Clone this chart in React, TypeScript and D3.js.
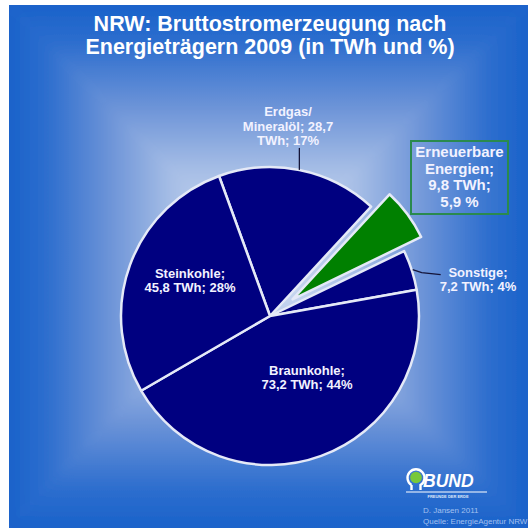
import React from "react";
import * as d3 from "d3";

// ---- data ----
const categories = ["Erdgas/Mineralöl", "Erneuerbare Energien", "Sonstige", "Braunkohle", "Steinkohle"];
const twhValues = [28.7, 9.8, 7.2, 73.2, 45.8];
const percentLabels = ["17%", "5,9 %", "4%", "44%", "28%"];
const labelLines = [
  ["Erdgas/", "Mineralöl; 28,7", "TWh; 17%"],
  ["Erneuerbare", "Energien;", "9,8 TWh;", "5,9 %"],
  ["Sonstige;", "7,2 TWh; 4%"],
  ["Braunkohle;", "73,2 TWh; 44%"],
  ["Steinkohle;", "45,8 TWh; 28%"],
];
const titleLines = ["NRW: Bruttostromerzeugung nach", "Energieträgern 2009 (in TWh und %)"];
const footerLines = ["D. Jansen 2011", "Quelle: EnergieAgentur NRW"];

// ---- layout / style (not data) ----
const W = 528, H = 528;
const panel = { x: 9, y: 5, w: 519, h: 523 };
const gc = { x: 262, y: 262 };
const cx = 270, cy = 316, R = 149;
const explodedIdx = 1;
const explodeDist = 28;
const explodedR = 143;
const fills = ["#000080", "#008000", "#000080", "#000080", "#000080"];
const labelPos = [
  { x: 288, y: 116, dy: 14.5, size: 13 },
  { x: 459.5, y: 157, dy: 16.7, size: 15 },
  { x: 478, y: 277, dy: 13.5, size: 13 },
  { x: 307, y: 375, dy: 14, size: 13 },
  { x: 190, y: 278, dy: 14, size: 13 },
];
const stops = [
  [0, "#1a62ca"],
  [0.15, "#2d6ece"],
  [0.4, "#6d94d8"],
  [0.65, "#a8bfe6"],
  [1, "#d4e0f4"],
];

export default function App() {
  const startA = (-20 * Math.PI) / 180;
  const pie = d3.pie<number>().sort(null).value((d) => d).startAngle(startA).endAngle(startA + 2 * Math.PI);
  const arcs = pie(twhValues);
  const arcGen = d3.arc<d3.PieArcDatum<number>>().innerRadius(0).outerRadius(R);
  const arcEx = d3.arc<d3.PieArcDatum<number>>().innerRadius(0).outerRadius(explodedR);

  const pt = (a: number, r: number) => [cx + r * Math.sin(a), cy - r * Math.cos(a)];

  const pad = 40;
  const L = panel.x - pad, T = panel.y - pad, Rr = panel.x + panel.w + pad, B = panel.y + panel.h + pad;
  const grads = [
    { id: "gT", x1: 0, y1: panel.y, x2: 0, y2: gc.y, pts: [[L, T], [Rr, T], [gc.x, gc.y]] },
    { id: "gB", x1: 0, y1: panel.y + panel.h, x2: 0, y2: gc.y, pts: [[L, B], [Rr, B], [gc.x, gc.y]] },
    { id: "gL", x1: panel.x, y1: 0, x2: gc.x, y2: 0, pts: [[L, T], [L, B], [gc.x, gc.y]] },
    { id: "gR", x1: panel.x + panel.w, y1: 0, x2: gc.x, y2: 0, pts: [[Rr, T], [Rr, B], [gc.x, gc.y]] },
  ];

  const erdMid = (arcs[0].startAngle + arcs[0].endAngle) / 2;
  const [ex, ey] = pt(erdMid, R);
  const sonMid = (arcs[2].startAngle + arcs[2].endAngle) / 2;
  const [sx, sy] = pt(sonMid, R + 1);

  const font = "'Liberation Sans', Arial, sans-serif";

  return (
    <svg width={W} height={H} style={{ position: "fixed", left: 0, top: 0, display: "block" }}>
      <defs>
        {grads.map((g) => (
          <linearGradient key={g.id} id={g.id} gradientUnits="userSpaceOnUse" x1={g.x1} y1={g.y1} x2={g.x2} y2={g.y2}>
            {stops.map(([o, c]) => (
              <stop key={String(o)} offset={o as number} stopColor={c as string} />
            ))}
          </linearGradient>
        ))}
        <clipPath id="panelClip">
          <rect x={panel.x} y={panel.y} width={panel.w} height={panel.h} />
        </clipPath>
        <filter id="soft" filterUnits="userSpaceOnUse" x={L} y={T} width={Rr - L} height={B - T}>
          <feGaussianBlur stdDeviation={6} />
        </filter>
      </defs>
      <rect x={0} y={0} width={W} height={H} fill="#ffffff" />
      <g clipPath="url(#panelClip)">
        <g filter="url(#soft)">
          {grads.map((g) => (
            <polygon key={g.id} points={g.pts.map((p) => p.join(",")).join(" ")} fill={`url(#${g.id})`} stroke={`url(#${g.id})`} strokeWidth={0.8} />
          ))}
        </g>
      </g>

      {/* title */}
      {titleLines.map((t, i) => (
        <text key={i} x={270} y={31 + i * 23} textAnchor="middle" fill="#ffffff" fontFamily={font} fontWeight="bold" fontSize={21.5}>
          {t}
        </text>
      ))}

      {/* pie */}
      {arcs.map((a, i) => {
        const mid = (a.startAngle + a.endAngle) / 2;
        const off = i === explodedIdx ? explodeDist : 0;
        const tx = off * Math.sin(mid), ty = -off * Math.cos(mid);
        return (
          <path
            key={categories[i]}
            d={(i === explodedIdx ? arcEx(a) : arcGen(a)) as string}
            transform={`translate(${cx + tx},${cy + ty})`}
            fill={fills[i]}
            stroke="#e4e9f7"
            strokeWidth={2.5}
            strokeLinejoin="round"
          />
        );
      })}

      {/* leader lines */}
      <line x1={ex} y1={ey} x2={ex} y2={ey - 22} stroke="#141438" strokeWidth={1.3} />
      <polyline points={`${sx},${sy} ${sx + 9},${sy + 3} ${sx + 28},${sy + 5}`} fill="none" stroke="#141438" strokeWidth={1.3} />

      {/* Erneuerbare box */}
      <rect x={411} y={141} width={97} height={73} fill="rgba(255,255,255,0.06)" stroke="#2a8a4e" strokeWidth={2} />

      {/* labels */}
      {labelLines.map((lines, i) =>
        lines.map((l, j) => (
          <text
            key={`${i}-${j}`}
            x={labelPos[i].x}
            y={labelPos[i].y + j * labelPos[i].dy}
            textAnchor="middle"
            fill="#f2f2ff"
            fontFamily={font}
            fontWeight="bold"
            fontSize={labelPos[i].size}
          >
            {l}
          </text>
        ))
      )}

      {/* BUND logo */}
      <g>
        <path d="M 411.5 485 A 8.5 8.5 0 1 1 420.5 485 L 420.5 490 M 411.5 485 L 411.5 490" fill="none" stroke="#ffffff" strokeWidth={2.4} />
        <circle cx={416} cy={477.5} r={5.8} fill="#78c83a" />
        <text x={423} y={487} fill="#ffffff" fontFamily={font} fontWeight="bold" fontStyle="italic" fontSize={17.5}>
          BUND
        </text>
        <line x1={406} y1={492} x2={487} y2={492} stroke="#ffffff" strokeWidth={1.2} />
        <text x={448} y={498} textAnchor="middle" fill="#dfe8fa" fontFamily={font} fontWeight="bold" fontSize={4}>
          FREUNDE DER ERDE
        </text>
        {footerLines.map((t, i) => (
          <text key={i} x={423} y={513 + i * 10.5} fill="#a3c0f0" fontFamily={font} fontSize={8}>
            {t}
          </text>
        ))}
      </g>
    </svg>
  );
}
